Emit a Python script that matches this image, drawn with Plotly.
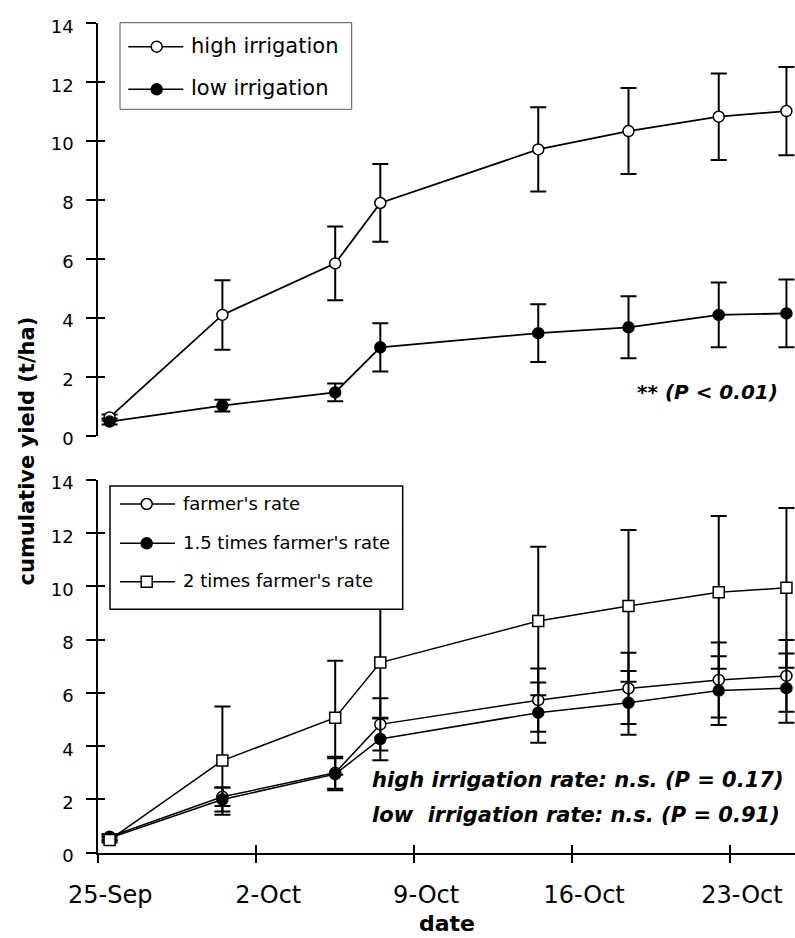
import plotly.graph_objects as go
from datetime import datetime, timedelta

# ---------------- data ----------------
dates = ["2002-09-26", "2002-10-01", "2002-10-06", "2002-10-08",
         "2002-10-15", "2002-10-19", "2002-10-23", "2002-10-26"]

# top panel: irrigation
high_irr = [0.62, 4.10, 5.85, 7.90, 9.72, 10.34, 10.83, 11.02]
high_irr_err = [0.10, 1.18, 1.25, 1.32, 1.43, 1.46, 1.47, 1.50]
low_irr = [0.48, 1.02, 1.47, 3.00, 3.48, 3.68, 4.10, 4.15]
low_irr_err = [0.10, 0.20, 0.30, 0.82, 0.98, 1.05, 1.10, 1.15]

# bottom panel: fertiliser rate
farmer = [0.60, 2.10, 3.00, 4.82, 5.73, 6.17, 6.49, 6.64]
farmer_err = [0.10, 0.35, 0.60, 0.98, 1.19, 1.34, 1.41, 1.35]
farmer15 = [0.55, 2.00, 2.95, 4.27, 5.26, 5.63, 6.09, 6.18]
farmer15_err = [0.10, 0.45, 0.60, 0.80, 1.13, 1.20, 1.29, 1.30]
farmer2 = [0.48, 3.46, 5.07, 7.14, 8.70, 9.27, 9.78, 9.95]
farmer2_err = [0.10, 2.03, 2.14, 2.10, 2.79, 2.85, 2.87, 3.00]

tick_dates = ["2002-09-25 12:00", "2002-10-02 12:00", "2002-10-09 12:00",
              "2002-10-16 12:00", "2002-10-23 12:00"]
tick_text = ["25-Sep", "2-Oct", "9-Oct", "16-Oct", "23-Oct"]
y_ticks = [0, 2, 4, 6, 8, 10, 12, 14]

# ---------------- geometry ----------------
W, H = 795, 938
FONT = "DejaVu Sans"


def fx(p):
    return p / W


def fy(p):
    return 1 - p / H


x0 = datetime(2002, 9, 25, 12, 0)
x1 = x0 + timedelta(days=30.88)
xrange = [x0.strftime("%Y-%m-%d %H:%M:%S"), x1.strftime("%Y-%m-%d %H:%M:%S")]
xdom = [fx(98.3), 1.0]
ydom_top = [fy(435.7), fy(23.3)]
ydom_bot = [fy(852.7), fy(480.0)]

fig = go.Figure()


def series(y, err, xa, ya, symbol, fill, lw=1.8):
    return go.Scatter(
        x=dates, y=y, xaxis=xa, yaxis=ya, mode="lines+markers",
        line=dict(color="black", width=lw),
        marker=dict(symbol=symbol, size=11, color=fill,
                    line=dict(color="black", width=1.5)),
        error_y=dict(type="data", array=err, visible=True, color="black",
                     thickness=2, width=8),
        showlegend=False, hoverinfo="skip",
    )


fig.add_trace(series(high_irr, high_irr_err, "x", "y", "circle", "white"))
fig.add_trace(series(low_irr, low_irr_err, "x", "y", "circle", "black"))
fig.add_trace(series(farmer, farmer_err, "x2", "y2", "circle", "white", 1.5))
fig.add_trace(series(farmer15, farmer15_err, "x2", "y2", "circle", "black", 1.5))
fig.add_trace(series(farmer2, farmer2_err, "x2", "y2", "square", "white", 1.5))

# empty traces for overlay axes (inside half of the crossing ticks)
fig.add_trace(go.Scatter(x=[None], y=[None], xaxis="x", yaxis="y3",
                         showlegend=False, hoverinfo="skip"))
fig.add_trace(go.Scatter(x=[None], y=[None], xaxis="x2", yaxis="y4",
                         showlegend=False, hoverinfo="skip"))
fig.add_trace(go.Scatter(x=[None], y=[None], xaxis="x3", yaxis="y2",
                         showlegend=False, hoverinfo="skip"))

yax_common = dict(range=[0, 14], tickmode="array", tickvals=y_ticks,
                  showgrid=False, zeroline=False, showline=True,
                  linecolor="black", linewidth=2, ticks="outside",
                  ticklen=10, tickwidth=2, tickcolor="black",
                  tickfont=dict(family=FONT, size=18, color="black"),
                  ticklabelstandoff=9, ticklabelshift=3, automargin=False)
yin_common = dict(range=[0, 14], tickmode="array", tickvals=y_ticks,
                  showgrid=False, zeroline=False, showline=False,
                  ticks="inside", ticklen=7, tickwidth=2, tickcolor="black",
                  showticklabels=False, side="left", automargin=False)

fig.update_layout(
    width=W, height=H, autosize=False,
    margin=dict(l=0, r=0, t=0, b=0, pad=0, autoexpand=False),
    paper_bgcolor="white", plot_bgcolor="white",
    showlegend=False,
    xaxis=dict(domain=xdom, anchor="y", type="date", range=xrange,
               visible=False, showgrid=False, zeroline=False,
               automargin=False),
    yaxis=dict(domain=ydom_top, anchor="x", **yax_common),
    yaxis3=dict(overlaying="y", anchor="x", **yin_common),
    xaxis2=dict(domain=xdom, anchor="y2", type="date", range=xrange,
                tickmode="array", tickvals=tick_dates, ticktext=tick_text,
                showgrid=False, zeroline=False, showline=True,
                linecolor="black", linewidth=2, ticks="outside", ticklen=8,
                tickwidth=2, tickcolor="black",
                tickfont=dict(family=FONT, size=24, color="black"),
                ticklabelshift=12, ticklabelstandoff=11, automargin=False),
    xaxis3=dict(overlaying="x2", anchor="y2", type="date", range=xrange,
                tickmode="array", tickvals=tick_dates, showgrid=False,
                zeroline=False, showline=False, ticks="inside", ticklen=8,
                tickwidth=2, tickcolor="black", showticklabels=False,
                automargin=False),
    yaxis2=dict(domain=ydom_bot, anchor="x2", **yax_common),
    yaxis4=dict(overlaying="y2", anchor="x2", **yin_common),
)

# ---------------- manual legends ----------------
shapes = []
annotations = []


def legend_box(x0p, y0p, x1p, y1p, color, width):
    shapes.append(dict(type="rect", xref="paper", yref="paper",
                       x0=fx(x0p), x1=fx(x1p), y0=fy(y1p), y1=fy(y0p),
                       line=dict(color=color, width=width),
                       fillcolor="white", layer="above"))


def legend_item(lx0, lx1, mx, ty, tx, symbol, fill, label, size):
    shapes.append(dict(type="line", xref="paper", yref="paper",
                       x0=fx(lx0), x1=fx(lx1), y0=fy(ty), y1=fy(ty),
                       line=dict(color="black", width=1.5), layer="above"))
    shapes.append(dict(type="circle" if symbol == "circle" else "rect",
                       xref="paper", yref="paper",
                       xsizemode="pixel", ysizemode="pixel",
                       xanchor=fx(mx), yanchor=fy(ty),
                       x0=-5.5, x1=5.5, y0=-5.5, y1=5.5,
                       line=dict(color="black", width=1.5),
                       fillcolor=fill, layer="above"))
    annotations.append(dict(xref="paper", yref="paper", x=fx(tx),
                            y=fy(ty - 1), xanchor="left", yanchor="middle",
                            text=label, showarrow=False,
                            font=dict(family=FONT, size=size, color="black")))


legend_box(120, 22.7, 351.7, 109.3, "#555555", 1)
legend_item(128.3, 183.3, 156.7, 46.7, 189, "circle", "white",
            "high irrigation", 21)
legend_item(128.3, 183.3, 156.7, 89.3, 189, "circle", "black",
            "low irrigation", 21)

legend_box(110, 486, 402.7, 609.3, "black", 1.5)
legend_item(120, 175, 146.7, 504, 181, "circle", "white",
            "farmer's rate", 18)
legend_item(120, 175, 146.7, 543.3, 181, "circle", "black",
            "1.5 times farmer's rate", 18)
legend_item(120, 175, 146.7, 581.7, 181, "square", "white",
            "2 times farmer's rate", 18)

# ---------------- texts ----------------
bi = dict(family=FONT, size=20, color="black", weight="bold", style="italic")
annotations.append(dict(xref="paper", yref="paper", x=fx(780), y=fy(391.7),
                        xanchor="right", yanchor="middle", showarrow=False,
                        text="** (P < 0.01)", font=bi))
bi2 = dict(bi, size=21)
annotations.append(dict(xref="paper", yref="paper", x=fx(370), y=fy(780),
                        xanchor="left", yanchor="middle", showarrow=False,
                        text="high irrigation rate: n.s. (P = 0.17)", font=bi2))
annotations.append(dict(xref="paper", yref="paper", x=fx(370), y=fy(815),
                        xanchor="left", yanchor="middle", showarrow=False,
                        text="low\u00a0 irrigation rate: n.s. (P = 0.91)",
                        font=bi2))
annotations.append(dict(xref="paper", yref="paper", x=fx(26), y=fy(451.5),
                        xanchor="center", yanchor="middle", showarrow=False,
                        textangle=-90, text="cumulative yield (t/ha)",
                        font=dict(family=FONT, size=21, color="black",
                                  weight="bold")))
annotations.append(dict(xref="paper", yref="paper", x=fx(446.7), y=fy(923),
                        xanchor="center", yanchor="middle", showarrow=False,
                        text="date",
                        font=dict(family=FONT, size=22, color="black",
                                  weight="bold")))

fig.update_layout(shapes=shapes, annotations=annotations)
fig.write_html("out.html")
